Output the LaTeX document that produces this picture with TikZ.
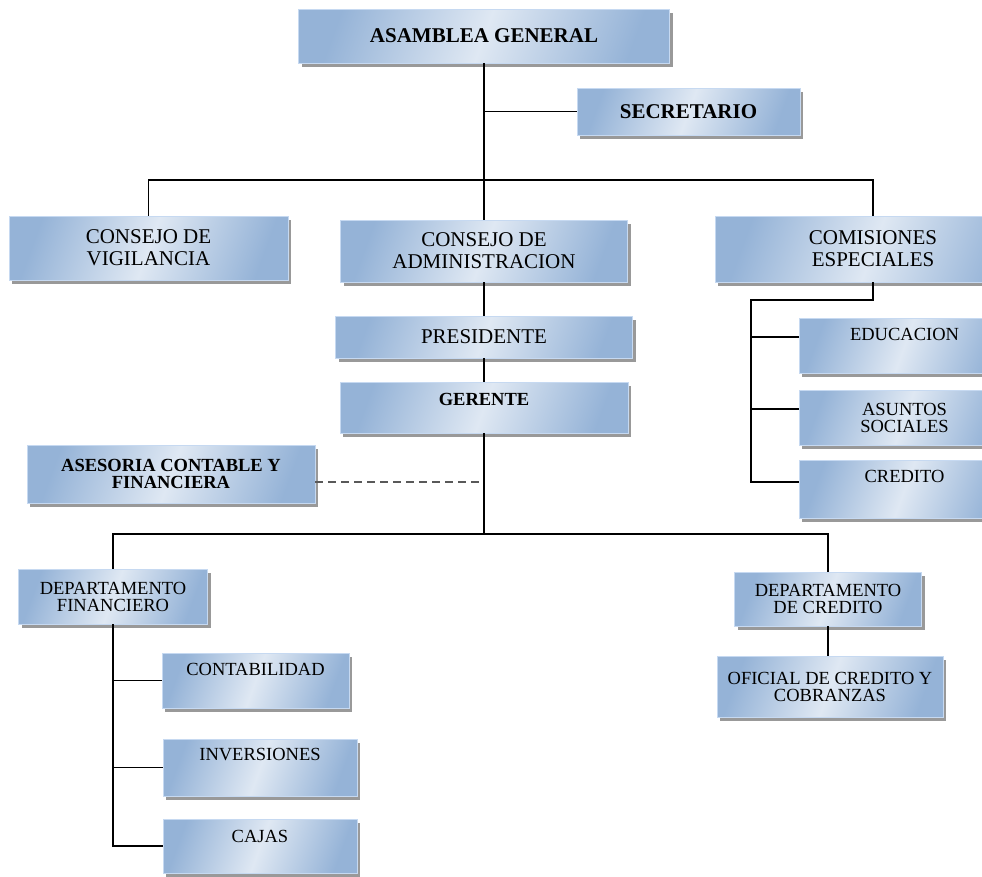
\documentclass[tikz,border=0pt]{standalone}
\usepackage{fontspec}
\setmainfont{Liberation Serif}
\usetikzlibrary{shadows}
\definecolor{boxdark}{HTML}{95B3D7}
\definecolor{boxlight}{HTML}{DFE8F3}
\definecolor{boxedge}{HTML}{C6D9F1}
\newcommand{\bigtxt}{\fontsize{21}{22}\selectfont}
\newcommand{\smalltxt}{\fontsize{18.5}{17}\selectfont}

\begin{document}
\begin{tikzpicture}[x=1pt,y=-1pt,line width=1.8pt,
                    org node/.style={draw=boxedge,line width=0.8pt,
                            top color=boxdark,bottom color=boxdark,middle color=boxlight,shading angle=70,
                            drop shadow={shadow xshift=3pt,shadow yshift=-4pt,fill=black!40,opacity=1},
                            align=center,inner sep=3pt,font=\bigtxt},
                    small node/.style={org node,font=\smalltxt},
                    boxsize/.style 2 args={minimum width=#1pt,minimum height=#2pt},
                    top text/.style={text depth=#1pt},
                    dash line/.style={draw=black!65,line width=2pt,dash pattern=on 8pt off 5pt}]

                \useasboundingbox (0,0) rectangle (982,876);
                \clip (0,0) rectangle (982,876);

                % top levels
                \node[org node,boxsize={371}{54},font=\bigtxt\bfseries] (asamblea) at (484,36) {ASAMBLEA GENERAL};
                \node[org node,boxsize={223}{47},font=\bigtxt\bfseries] (secretario) at (688.5,111.5) {SECRETARIO};
                \node[org node,boxsize={279}{64}] (vigilancia) at (148.5,248) {CONSEJO DE\\VIGILANCIA};
                \node[org node,boxsize={287}{62}] (admin) at (484,251) {CONSEJO DE\\ADMINISTRACION};
                \node[org node,boxsize={316}{66}] (comisiones) at (873,249) {COMISIONES\\ESPECIALES};

                % comisiones
                \node[small node,boxsize={211}{55},top text=23] (educacion) at (904.5,345.5) {EDUCACION};
                \node[small node,boxsize={211}{55}] (asuntos) at (904.5,417.5) {ASUNTOS\\SOCIALES};
                \node[small node,boxsize={211}{58},top text=26] (credito) at (904.5,489) {CREDITO};

                % administracion
                \node[org node,boxsize={297}{42}] (presidente) at (484,337) {PRESIDENTE};
                \node[small node,boxsize={288}{51},top text=17,font=\smalltxt\bfseries] (gerente) at (484,407.5) {GERENTE};
                \node[small node,boxsize={288}{58},font=\smalltxt\bfseries] (asesoria) at (171,474) {ASESORIA CONTABLE Y\\FINANCIERA};

                % departamentos
                \node[small node,boxsize={189}{55}] (depfin) at (113,596.5) {DEPARTAMENTO\\FINANCIERO};
                \node[small node,boxsize={187}{54}] (depcred) at (828,599) {DEPARTAMENTO\\DE CREDITO};
                \node[small node,boxsize={226}{61}] (oficial) at (830,686.5) {OFICIAL DE CREDITO Y\\COBRANZAS};
                \node[small node,boxsize={187}{55},top text=23] (contab) at (255.5,680.5) {CONTABILIDAD};
                \node[small node,boxsize={194}{57},top text=27] (inversiones) at (260,767.5) {INVERSIONES};
                \node[small node,boxsize={194}{54},top text=20] (cajas) at (260,846) {CAJAS};

                \coordinate (topbus) at (484,180);
                \coordinate (midbus) at (484,534);
                \coordinate (asesoria end) at (484,482);
                \coordinate (combus) at (751,300);
                \coordinate (comA) at (751,337);
                \coordinate (comB) at (751,409);
                \coordinate (comC) at (751,482);

                \draw (asamblea.south) -- (admin.north);
                \draw (secretario.west) -- (secretario.west -| asamblea.south);
                \draw (vigilancia.north) |- (topbus) -| (comisiones.north);
                \draw (admin.south) -- (presidente.north);
                \draw (presidente.south) -- (gerente.north);
                \draw (gerente.south) -- (midbus);
                \draw (depfin.north) |- (midbus) -| (depcred.north);
                \draw (depcred.south) -- (depcred.south |- oficial.north);
                \draw[dash line] (asesoria.east |- asesoria end) -- (asesoria end);

                \draw (comisiones.south) |- (combus) -- (comC) -- (comC -| credito.west);
                \draw (comA) -- (comA -| educacion.west);
                \draw (comB) -- (comB -| asuntos.west);

                \draw (depfin.south) |- (cajas.west);
                \draw (depfin.south |- contab.west) -- (contab.west);
                \draw (depfin.south |- inversiones.west) -- (inversiones.west);
            \end{tikzpicture}
\end{document}
